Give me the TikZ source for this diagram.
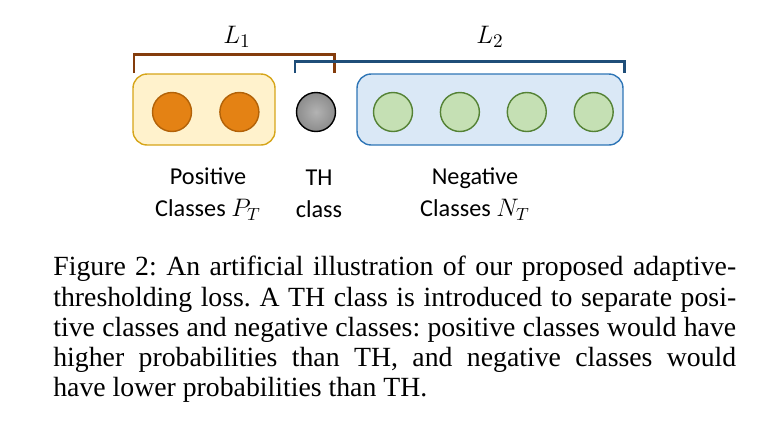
\documentclass[tikz,border=0pt]{standalone}
\usepackage{fontspec}
\setmainfont{Liberation Serif}
\setsansfont{Carlito}
\usetikzlibrary{positioning}
\definecolor{posfill}{RGB}{255,242,204}
\definecolor{posline}{RGB}{214,165,25}
\definecolor{posball}{RGB}{228,130,20}
\definecolor{posring}{RGB}{178,98,8}
\definecolor{negfill}{RGB}{218,232,246}
\definecolor{negline}{RGB}{46,117,182}
\definecolor{negball}{RGB}{197,224,180}
\definecolor{negring}{RGB}{84,130,53}
\definecolor{lonecol}{RGB}{132,60,12}
\definecolor{ltwocol}{RGB}{31,78,121}

\begin{document}
\frenchspacing
\begin{tikzpicture}[x=0.02cm,y=-0.02cm]
  \tikzstyle{grp}=[draw,thick,rounded corners=8pt,minimum height=1.42cm]
  \tikzstyle{cls}=[circle,thick,minimum size=0.78cm,inner sep=0pt]
  \tikzstyle{brk}=[line width=1.7pt]
  \tikzstyle{lbl}=[font=\sffamily\fontsize{13.8}{18}\selectfont,align=center]
  \useasboundingbox (0,0) rectangle (766,424);

  % -- Positive classes --
  \node[grp,draw=posline,fill=posfill,minimum width=2.84cm] (pos) at (204,109.5) {};
  \node[cls,draw=posring,fill=posball] (p1) at (172,112) {};
  \node[cls,draw=posring,fill=posball,right=0.54cm of p1] (p2) {};

  % -- TH class --
  \node[cls,draw=black,inner color=black!30,outer color=black!45] (th) at (316,112) {};

  % -- Negative classes --
  \node[grp,draw=negline,fill=negfill,minimum width=5.32cm] (neg) at (490,109.5) {};
  \node[cls,draw=negring,fill=negball] (n1) at (393,112) {};
  \node[cls,draw=negring,fill=negball,right=0.53cm of n1] (n2) {};
  \node[cls,draw=negring,fill=negball,right=0.53cm of n2] (n3) {};
  \node[cls,draw=negring,fill=negball,right=0.53cm of n3] (n4) {};

  % -- Brackets --
  \draw[brk,draw=lonecol] (134,73) -- (134,54) -- (334,54) -- (334,73);
  \draw[brk,draw=ltwocol] (295,73) -- (295,61) -- (624,61) -- (624,73);
  \node[font=\fontsize{15}{17}\selectfont] (lone) at (237,37) {$L_1$};
  \node[font=\fontsize{15}{17}\selectfont] (ltwo) at (490,37) {$L_2$};

  % -- Labels --
  \node[lbl] (plbl) at (208,194) {Positive\\Classes $P_T$};
  \node[lbl] (tlbl) at (319,194) {TH\\class};
  \node[lbl] (nlbl) at (475,194) {Negative\\Classes $N_T$};

  % -- Caption --
  \node[anchor=north west,inner sep=0pt,text width=13.66cm,align=justify,
    font=\fontsize{15.8}{17.2}\selectfont] (cap) at (53,256)
    {Figure 2: An artificial illustration of our proposed adaptive-\linebreak
     thresholding loss. A TH class is introduced to separate posi-\linebreak
     tive classes and negative classes: positive classes would have\linebreak
     higher probabilities than TH, and negative classes would\linebreak
     have lower probabilities than TH.};
\end{tikzpicture}
\end{document}
